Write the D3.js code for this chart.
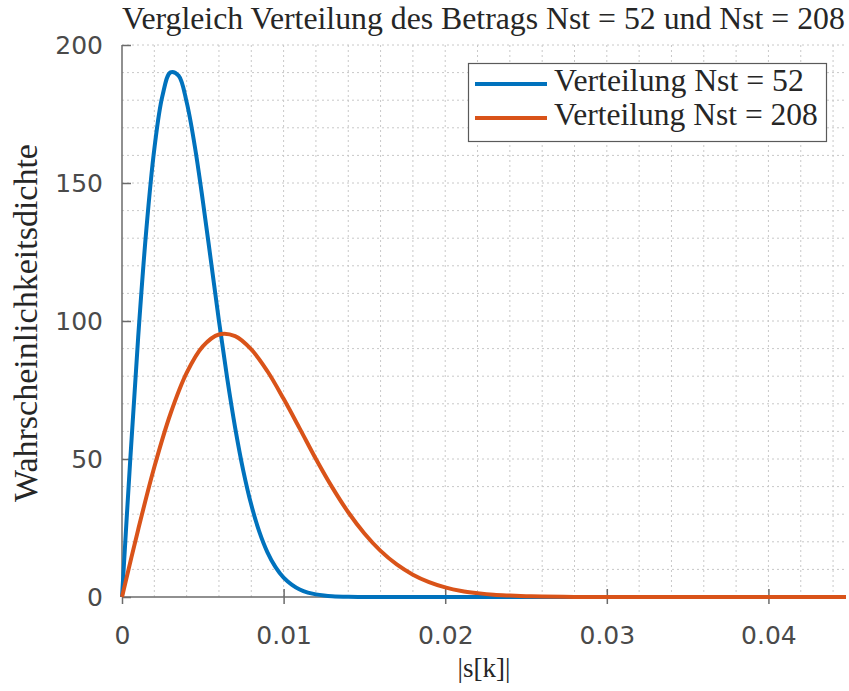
<!DOCTYPE html>
<html lang="de">
<head>
<meta charset="UTF-8">
<script src="https://d3js.org/d3.v7.min.js"></script>
<style>
  body { margin: 0; background: #fff; }
  .tick text { font-family: "DejaVu Sans", sans-serif; font-size: 25px; fill: #4a4a4a; }
  .serif { font-family: "Liberation Serif", "DejaVu Serif", serif; fill: #262626; }
</style>
</head>
<body>
<svg id="chart"></svg>
<script>

// |s[k]| values and densities
let xBlue = [0, 0.0005, 0.001, 0.0015, 0.002, 0.0025, 0.003, 0.0035, 0.004, 0.0045,
    0.005, 0.0055, 0.006, 0.0065, 0.007, 0.0075, 0.008, 0.0085, 0.009, 0.0095,
    0.010, 0.0105, 0.011, 0.0115, 0.012, 0.0125, 0.013, 0.014, 0.015, 0.016,
    0.02, 0.03, 0.0448]
let yBlue = [0, 48.8, 94.1, 132.7, 162.3, 181.5, 190.1, 188.9, 179.3, 163.5,
    143.6, 121.9, 100.0, 79.6, 61.4, 45.9, 33.4, 23.6, 16.2, 10.8,
    7.0, 4.5, 2.7, 1.6, 0.96, 0.55, 0.30, 0.09, 0.02, 0.004,
    0, 0, 0]

let xOrange = [0, 0.001, 0.002, 0.003, 0.004, 0.005, 0.006, 0.007, 0.008, 0.009,
    0.010, 0.011, 0.012, 0.013, 0.014, 0.015, 0.016, 0.017, 0.018, 0.019,
    0.020, 0.021, 0.022, 0.023, 0.024, 0.025, 0.026, 0.028, 0.030, 0.032, 0.0448]
let yOrange = [0, 24.4, 47.1, 66.4, 81.2, 90.8, 95.1, 94.5, 89.7, 81.8,
    71.8, 61.0, 50.0, 39.8, 30.7, 23.0, 16.7, 11.8, 8.1, 5.4,
    3.5, 2.2, 1.4, 0.8, 0.5, 0.28, 0.15, 0.04, 0.01, 0.002, 0]

let seriesNames = ['Verteilung Nst = 52', 'Verteilung Nst = 208']
let colors = ['#0072bd', '#d95319']
let xTicks = [0, 0.01, 0.02, 0.03, 0.04]
let yTicks = [0, 50, 100, 150, 200]

const W = 849, H = 691
let margin = {top: 45, right: 3, bottom: 94, left: 122},
    width = W - margin.left - margin.right,
    height = H - margin.top - margin.bottom

let svg = d3.select('#chart')
    .attr('width', W)
    .attr('height', H)

let g = svg.append('g')
    .attr('transform', `translate(${margin.left},${margin.top})`)

let x = d3.scaleLinear().domain([0, 0.0448]).range([0, width])
let y = d3.scaleLinear().domain([0, 200]).range([height, 0])

// dotted grid, every 0.002 and every 10
let grid = g.append('g')
    .attr('stroke', '#c8c8c8')
    .attr('stroke-width', 1)
    .attr('stroke-dasharray', '2,3')
grid.selectAll('.vgrid')
  .data(d3.range(1, 23).map(i => i * 0.002))
  .join('line')
    .attr('x1', d => x(d)).attr('x2', d => x(d))
    .attr('y1', 0).attr('y2', height)
grid.selectAll('.hgrid')
  .data(d3.range(1, 21).map(i => i * 10))
  .join('line')
    .attr('x1', 0).attr('x2', width)
    .attr('y1', d => y(d)).attr('y2', d => y(d))

let xAxis = g.append('g')
    .attr('transform', `translate(0,${height})`)
    .call(d3.axisBottom(x).tickValues(xTicks).tickSize(7).tickPadding(22)
        .tickFormat(d => d === 0 ? '0' : d3.format('.2f')(d)))
let yAxis = g.append('g')
    .call(d3.axisLeft(y).tickValues(yTicks).tickSize(7).tickPadding(12))

;[xAxis, yAxis].forEach(a => {
    a.select('.domain').attr('stroke', '#6b6b6b').attr('stroke-width', 1.5)
        .attr('d', a === xAxis ? `M0,0H${width}` : `M0,0V${height}`)
    a.selectAll('.tick line').attr('stroke', '#6b6b6b').attr('stroke-width', 1.5)
})
// ticks cross the axis
xAxis.selectAll('.tick line').attr('y1', -8)
yAxis.selectAll('.tick line').attr('x2', 9)

let line = d3.line()
    .x(d => x(d[0]))
    .y(d => y(d[1]))
    .curve(d3.curveCatmullRom.alpha(0.5))

let blue = xBlue.map((v, i) => [v, yBlue[i]])
let orange = xOrange.map((v, i) => [v, yOrange[i]])

;[blue, orange].forEach((data, i) => {
    g.append('path')
        .datum(data)
        .attr('fill', 'none')
        .attr('stroke', colors[i])
        .attr('stroke-width', 4)
        .attr('stroke-linejoin', 'round')
        .attr('d', line)
})

// fit serif text to a width measured on the picture
function fit(sel, target) {
    let w = sel.node().getComputedTextLength()
    let fs = parseFloat(sel.style('font-size'))
    sel.style('font-size', (fs * target / w) + 'px')
}

// title
let title = svg.append('text')
    .attr('class', 'serif')
    .attr('x', 122)
    .attr('y', 29)
    .style('font-size', '24px')
    .text('Vergleich Verteilung des Betrags Nst = 52 und Nst = 208')
fit(title, 723)

// axis labels
svg.append('text')
    .attr('class', 'serif')
    .attr('x', 484)
    .attr('y', 677)
    .attr('text-anchor', 'middle')
    .style('font-size', '27px')
    .text('|s[k]|')

let ylab = svg.append('text')
    .attr('class', 'serif')
    .attr('transform', 'translate(37,323) rotate(-90)')
    .attr('text-anchor', 'middle')
    .style('font-size', '26px')
    .text('Wahrscheinlichkeitsdichte')
fit(ylab, 358)

// legend
let legend = svg.append('g')
legend.append('rect')
    .attr('x', 468.5).attr('y', 63.5)
    .attr('width', 358).attr('height', 78)
    .attr('fill', '#fff')
    .attr('stroke', '#5a5a5a')
    .attr('stroke-width', 1.2)
seriesNames.forEach((name, i) => {
    let yy = 84 + i * 34
    legend.append('line')
        .attr('x1', 475).attr('x2', 547)
        .attr('y1', yy).attr('y2', yy)
        .attr('stroke', colors[i])
        .attr('stroke-width', 4)
    let t = legend.append('text')
        .attr('class', 'serif')
        .attr('x', 554)
        .attr('y', yy + 7)
        .style('font-size', '24px')
        .text(name)
    fit(t, i === 0 ? 250 : 264)
})

</script>
</body>
</html>
